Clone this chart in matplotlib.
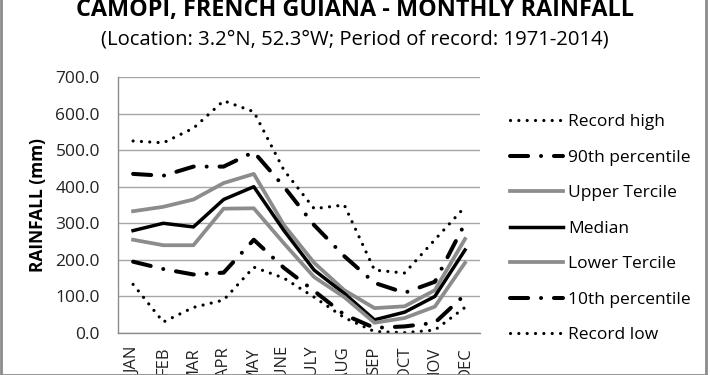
import numpy as np
import matplotlib
matplotlib.use("Agg")
import matplotlib.pyplot as plt
from matplotlib.patches import Rectangle

plt.rcParams['font.family'] = ['Open Sans', 'DejaVu Sans']

# Monthly rainfall statistics (mm)
months = ['JAN', 'FEB', 'MAR', 'APR', 'MAY', 'JUNE', 'JULY', 'AUG', 'SEP', 'OCT', 'NOV', 'DEC']
record_high = [525, 520, 560, 635, 605, 445, 340, 350, 172, 164, 255, 345]
pct90 = [435, 430, 455, 455, 495, 400, 295, 210, 137, 110, 140, 300]
upper_tercile = [333, 345, 365, 410, 435, 295, 192, 117, 68, 73, 117, 257]
median = [280, 300, 290, 365, 400, 280, 172, 108, 36, 57, 100, 227]
lower_tercile = [255, 240, 240, 340, 341, 245, 153, 98, 28, 41, 72, 192]
pct10 = [195, 175, 160, 165, 255, 178, 115, 50, 14, 18, 28, 105]
record_low = [133, 30, 70, 90, 180, 150, 98, 42, 4, 1, 8, 70]

x = np.arange(len(months))
gray = '#8c8c8c'
lw = 2.3

fig = plt.figure(figsize=(7.1, 3.75), dpi=100)
ax = fig.add_axes([0.1662, 0.112, 0.5100, 0.6827])

dot = (0, (0.01, 2.6))
dashdot = (0, (4.5, 3.2, 0.01, 3.2))

ax.plot(x, record_high, color='black', lw=lw, linestyle=dot, dash_capstyle='round', label='Record high')
ax.plot(x, pct90, color='black', lw=lw + 0.6, linestyle=dashdot, dash_capstyle='round', label='90th percentile')
ax.plot(x, upper_tercile, color=gray, lw=lw + 0.4, label='Upper Tercile')
ax.plot(x, median, color='black', lw=lw + 0.2, label='Median')
ax.plot(x, lower_tercile, color=gray, lw=lw + 0.4, label='Lower Tercile')
ax.plot(x, pct10, color='black', lw=lw + 0.6, linestyle=dashdot, dash_capstyle='round', label='10th percentile')
ax.plot(x, record_low, color='black', lw=lw, linestyle=dot, dash_capstyle='round', label='Record low')

ax.set_xlim(-0.5, 11.5)
ax.set_ylim(0, 700)
ax.set_yticks(np.arange(0, 701, 100))
ax.set_yticklabels([f'{v:.1f}' for v in np.arange(0, 701, 100)], fontsize=12.5, color='#222222')
ax.set_xticks(x)
ax.set_xticklabels(months, rotation=90, fontsize=12, color='#222222', va='top')
ax.tick_params(axis='y', length=0, pad=13)
ax.tick_params(axis='x', length=0, pad=10)
ax.grid(axis='y', color='#a6a6a6', lw=1)
ax.set_axisbelow(True)
for s in ['top', 'right']:
    ax.spines[s].set_visible(False)
for s in ['left', 'bottom']:
    ax.spines[s].set_color('#8c8c8c')
    ax.spines[s].set_linewidth(1)

ax.set_ylabel('RAINFALL (mm)', fontsize=12.5, fontweight='bold')
ax.yaxis.set_label_coords(-0.196, 0.5)

fig.text(0.5, 0.957, 'CAMOPI, FRENCH GUIANA - MONTHLY RAINFALL', ha='center', va='baseline',
         fontsize=16.8, fontweight='bold')
fig.text(0.5, 0.88, '(Location: 3.2°N, 52.3°W; Period of record: 1971-2014)', ha='center', va='baseline',
         fontsize=14.6)

ax.legend(loc='upper left', bbox_to_anchor=(1.064, 0.882), frameon=False, fontsize=12.5,
          handlelength=3.05, handletextpad=0.29, labelspacing=1.115, borderaxespad=0)

fig.patches.append(Rectangle((0.002, 0), 0.992, 1.2, transform=fig.transFigure, fill=False,
                             edgecolor='#8c8c8c', lw=2))

fig.savefig('out.png', dpi=100)
